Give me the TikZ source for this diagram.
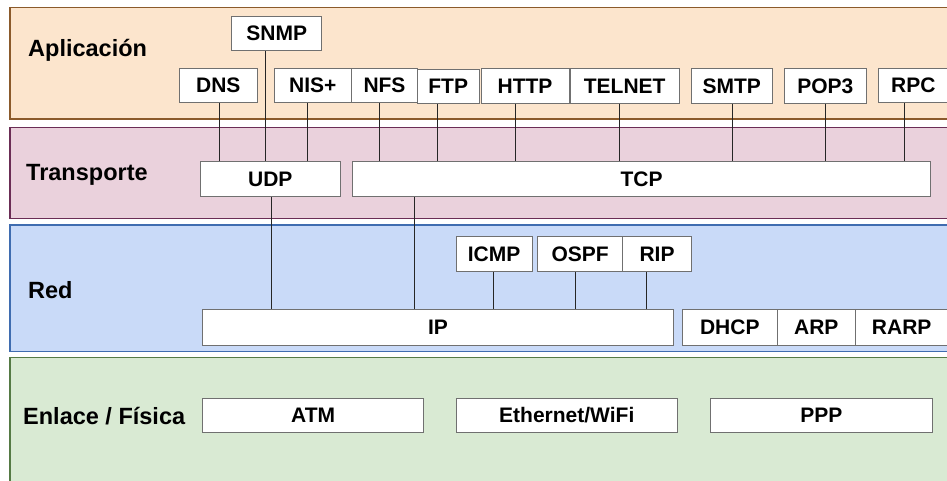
\documentclass[tikz,border=0pt]{standalone}
\usepackage{color}
\usepackage{fontspec}
\setmainfont{Liberation Sans}
\usepackage{tikz}

\definecolor{appfill}{HTML}{FCE5CD}
\definecolor{appline}{HTML}{8B5A2B}
\definecolor{trafill}{HTML}{EAD1DC}
\definecolor{traline}{HTML}{6B2D55}
\definecolor{redfill}{HTML}{C9DAF8}
\definecolor{redline}{HTML}{3F6CB0}
\definecolor{enlfill}{HTML}{D9EAD3}
\definecolor{enlline}{HTML}{557A44}
\definecolor{boxline}{HTML}{707070}

\begin{document}
\begin{tikzpicture}[x=1pt, y=-1pt,
    proto/.style={draw=boxline, fill=white, line width=0.9pt, inner sep=0pt,
      font=\fontsize{21}{21}\selectfont\bfseries, minimum height=34.5pt},
    layer/.style={anchor=west, inner sep=0pt,
      font=\fontsize{23.5}{23.5}\selectfont\bfseries},
    link/.style={draw=black!85, line width=0.8pt}]

   \useasboundingbox (0,0) rectangle (947,480);
   \clip (0,0) rectangle (947,480);

   % capas
   \filldraw[fill=appfill, draw=appline, line width=1.6pt] (10,7.5) rectangle (960,119);
   \filldraw[fill=trafill, draw=traline, line width=1.6pt] (10,127.5) rectangle (960,218.5);
   \filldraw[fill=redfill, draw=redline, line width=1.6pt] (10,225) rectangle (960,351.5);
   \filldraw[fill=enlfill, draw=enlline, line width=1.6pt] (10,357.5) rectangle (960,495);

   \node[layer] (lapp) at (28,50) {Aplicación};
   \node[layer] (ltra) at (26,175) {Transporte};
   \node[layer] (lred) at (28,290) {Red};
   \node[layer] (lenl) at (23,416.5) {Enlace / Física};

   % aplicacion
   \node[proto, minimum width=90pt]  (snmp)   at (276.7,33.3) {SNMP};
   \node[proto, minimum width=78pt]  (dns)    at (218.3,85.5) {DNS};
   \node[proto, minimum width=77.7pt] (nis)   at (312.8,85.5) {NIS+};
   \node[proto, minimum width=65.6pt] (nfs)   at (384.5,85.5) {NFS};
   \node[proto, minimum width=61.7pt] (ftp)   at (448.2,86.5) {FTP};
   \node[proto, minimum width=88pt]  (http)   at (525,86) {HTTP};
   \node[proto, minimum width=109.3pt] (telnet) at (624.7,86) {TELNET};
   \node[proto, minimum width=81.7pt] (smtp)  at (731.8,86) {SMTP};
   \node[proto, minimum width=82.7pt] (pop)   at (825.3,86) {POP3};
   \node[proto, minimum width=70.6pt] (rpc)   at (913.3,85.2) {RPC};

   % transporte
   \node[proto, minimum width=139.3pt, minimum height=35pt] (udp) at (270.3,179.2) {UDP};
   \node[proto, minimum width=577.6pt, minimum height=35pt] (tcp) at (641.5,179.2) {TCP};

   % red
   \node[proto, minimum width=76pt, minimum height=35pt] (icmp) at (494,254.2) {ICMP};
   \node[proto, minimum width=85pt, minimum height=35pt] (ospf) at (580.2,254.2) {OSPF};
   \node[proto, minimum width=68.6pt, minimum height=35pt] (rip) at (657,254.2) {RIP};
   \node[proto, minimum width=470.6pt, minimum height=35.7pt] (ip) at (438,327.2) {IP};
   \node[proto, minimum width=94.3pt, minimum height=35.7pt] (dhcp) at (729.8,327.2) {DHCP};
   \node[proto, minimum width=78.7pt, minimum height=35.7pt] (arp) at (816.3,327.2) {ARP};
   \node[proto, minimum width=92pt, minimum height=35.7pt] (rarp) at (901.7,327.2) {RARP};

   % enlace
   \node[proto, minimum width=221pt] (atm) at (313.2,415.5) {ATM};
   \node[proto, minimum width=221.7pt] (eth) at (566.8,415.5) {Ethernet/WiFi};
   \node[proto, minimum width=221.3pt] (ppp) at (821.3,415.5) {PPP};

   % conexiones
   \foreach \a/\b/\d in {dns/udp/1, snmp/udp/-11, nis/udp/-5.5,
                         nfs/tcp/-5, ftp/tcp/-11.2, http/tcp/-9.3, telnet/tcp/-5,
                         smtp/tcp/0.5, pop/tcp/-0.3, rpc/tcp/-9,
                         udp/ip/1.4, icmp/ip/-1, ospf/ip/-4.5, rip/ip/-10.3}
   {
     \draw[link] ([xshift=\d pt]\a.south) -- ([xshift=\d pt]\a.south |- \b.north);
   }
   \draw[link] ([xshift=-23.7pt]ip.north) -- ([xshift=-23.7pt]ip.north |- tcp.south);

\end{tikzpicture}
\end{document}
